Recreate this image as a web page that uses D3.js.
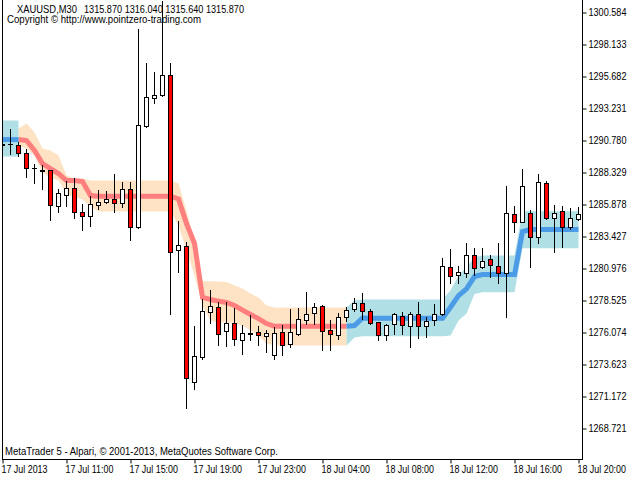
<!DOCTYPE html>
<html lang="en">
<head>
  <meta charset="UTF-8">
  <title>XAUUSD,M30</title>
  <script src="https://d3js.org/d3.v7.min.js"></script>
  <style>
    body { margin: 0; background: #fff; }
    svg { display: block; }
    text { font-family: "Liberation Sans", Arial, sans-serif; font-size: 10px; fill: #000; }
  </style>
</head>
<body>
  <div id="root"></div>
  <script>
    // XAUUSD M30 bars, 17 Jul 07:00 .. 18 Jul 20:00
    const opens = [
      1290.39, 1290.47, 1290.39, 1289.76, 1288.61, 1288.52, 1288.46, 1285.76, 1286.53, 1287.14,
      1285.24, 1284.99, 1285.77, 1286.00, 1286.28, 1285.93, 1287.02, 1284.13, 1291.87, 1294.03,
      1294.19, 1295.73, 1282.35, 1282.63, 1272.28, 1274.18, 1277.62, 1277.96, 1276.12, 1276.74,
      1275.43, 1276.03, 1276.05, 1275.79, 1274.33, 1276.05, 1275.13, 1275.94, 1276.99, 1277.50,
      1278.04, 1276.20, 1275.82, 1277.20, 1277.83, 1278.27, 1277.70, 1276.81, 1275.84, 1276.66,
      1277.32, 1276.53, 1277.42, 1276.53, 1276.99, 1277.42, 1281.05, 1280.41, 1280.61, 1281.94,
      1281.03, 1281.64, 1281.12, 1280.61, 1285.09, 1284.52, 1285.16, 1283.37, 1287.46, 1284.78,
      1285.34, 1284.13, 1284.75
    ]
    const highs = [
      1290.62, 1291.60, 1290.62, 1290.09, 1288.98, 1288.90, 1288.48, 1287.05, 1287.61, 1287.90,
      1285.85, 1286.49, 1286.92, 1286.91, 1288.19, 1287.56, 1287.54, 1299.26, 1296.70, 1296.01,
      1301.45, 1296.70, 1284.59, 1282.94, 1276.53, 1278.60, 1279.29, 1278.37, 1278.37, 1277.88,
      1276.58, 1277.35, 1276.51, 1276.22, 1276.48, 1276.58, 1277.83, 1277.88, 1279.13, 1278.27,
      1278.14, 1276.99, 1277.52, 1277.96, 1278.65, 1279.03, 1277.81, 1276.86, 1276.68, 1277.55,
      1277.62, 1277.58, 1278.34, 1277.24, 1278.21, 1281.71, 1282.43, 1281.12, 1282.86, 1282.53,
      1282.50, 1281.97, 1282.86, 1287.25, 1285.72, 1288.56, 1285.41, 1288.17, 1287.61, 1285.80,
      1285.72, 1285.54, 1285.62
    ]
    const lows = [
      1290.32, 1289.74, 1289.55, 1287.97, 1287.51, 1287.05, 1284.69, 1285.26, 1285.72, 1284.80,
      1283.88, 1284.19, 1285.51, 1285.97, 1285.24, 1285.67, 1283.12, 1284.07, 1291.80, 1293.63,
      1294.15, 1277.42, 1280.69, 1270.22, 1271.74, 1273.98, 1276.74, 1275.10, 1275.00, 1275.10,
      1274.41, 1275.48, 1275.10, 1274.56, 1273.98, 1274.33, 1274.94, 1275.86, 1276.68, 1276.68,
      1274.73, 1274.69, 1275.53, 1276.95, 1277.70, 1277.06, 1276.68, 1275.46, 1275.46, 1275.89,
      1275.89, 1274.94, 1275.59, 1275.66, 1276.58, 1277.37, 1279.80, 1279.80, 1280.26, 1280.44,
      1280.97, 1280.31, 1279.85, 1277.24, 1283.75, 1284.50, 1281.07, 1282.91, 1284.73, 1282.22,
      1282.60, 1283.96, 1284.65
    ]
    const closes = [
      1290.51, 1290.47, 1289.82, 1288.61, 1288.60, 1288.44, 1285.77, 1286.69, 1287.14, 1285.26,
      1284.99, 1285.91, 1286.03, 1286.28, 1285.93, 1287.00, 1284.13, 1291.90, 1294.05, 1294.19,
      1295.73, 1282.17, 1282.71, 1272.58, 1274.21, 1277.68, 1278.06, 1275.94, 1276.76, 1275.56,
      1275.97, 1275.95, 1275.82, 1275.97, 1275.97, 1275.05, 1276.05, 1277.04, 1277.42, 1277.96,
      1276.18, 1275.92, 1277.20, 1277.79, 1278.27, 1277.68, 1276.74, 1275.84, 1276.61, 1277.42,
      1276.61, 1277.45, 1276.53, 1276.91, 1277.42, 1281.12, 1280.36, 1280.67, 1281.94, 1280.95,
      1281.48, 1281.18, 1280.57, 1285.16, 1284.50, 1287.23, 1283.37, 1287.54, 1284.78, 1285.16,
      1284.13, 1284.78, 1285.09
    ]

    // trend channel indicator: middle line, upper / lower band, direction (1 up, -1 down)
    const midLine = [
      1290.85, 1290.85, 1290.85, 1290.78, 1290.01, 1289.01, 1288.63, 1288.25, 1287.71, 1287.71,
      1287.64, 1286.56, 1286.51, 1286.51, 1286.51, 1286.51, 1286.51, 1286.51, 1286.51, 1286.51,
      1286.51, 1286.51, 1286.30, 1284.42, 1282.89, 1278.77, 1278.60, 1278.48, 1278.37, 1278.14,
      1277.79, 1277.45, 1277.14, 1276.76, 1276.55, 1276.55, 1276.55, 1276.55, 1276.55, 1276.55,
      1276.55, 1276.55, 1276.55, 1276.55, 1276.61, 1277.18, 1277.16, 1277.16, 1277.16, 1277.16,
      1277.16, 1277.16, 1277.16, 1277.16, 1277.16, 1277.16, 1278.01, 1278.90, 1279.42, 1280.36,
      1280.51, 1280.51, 1280.51, 1280.51, 1280.51, 1283.80, 1283.96, 1283.96, 1283.96, 1283.96,
      1283.96, 1283.96, 1283.96
    ]
    const bandUpper = [
      1292.31, 1292.31, 1291.70, 1292.08, 1291.39, 1290.16, 1290.01, 1289.63, 1288.10, 1287.87,
      1287.87, 1287.71, 1287.71, 1287.71, 1287.71, 1287.71, 1287.71, 1287.71, 1287.71, 1287.71,
      1287.71, 1287.71, 1287.48, 1285.41, 1283.12, 1280.00, 1280.00, 1279.98, 1279.94, 1279.67,
      1279.44, 1279.06, 1278.75, 1278.14, 1277.98, 1277.98, 1277.98, 1277.98, 1277.98, 1277.98,
      1277.98, 1277.98, 1277.98, 1277.98, 1278.52, 1278.60, 1278.60, 1278.60, 1278.60, 1278.60,
      1278.60, 1278.60, 1278.60, 1278.60, 1278.60, 1278.60, 1279.29, 1280.44, 1281.07, 1281.84,
      1281.97, 1281.97, 1281.97, 1281.97, 1281.97, 1285.36, 1285.36, 1285.36, 1285.36, 1285.36,
      1285.36, 1285.36, 1285.36
    ]
    const bandLower = [
      1289.55, 1289.55, 1290.39, 1290.16, 1289.63, 1288.33, 1287.94, 1287.71, 1286.72, 1286.41,
      1286.26, 1285.72, 1285.34, 1285.34, 1285.34, 1285.34, 1285.34, 1285.34, 1285.34, 1285.34,
      1285.34, 1285.34, 1284.27, 1282.35, 1280.44, 1278.14, 1276.99, 1276.84, 1276.84, 1276.76,
      1276.61, 1276.22, 1275.84, 1275.23, 1275.07, 1275.07, 1275.07, 1275.07, 1275.07, 1275.07,
      1275.07, 1275.07, 1275.07, 1275.07, 1275.69, 1275.79, 1275.79, 1275.79, 1275.79, 1275.79,
      1275.79, 1275.79, 1275.79, 1275.79, 1275.79, 1275.79, 1275.84, 1276.99, 1277.52, 1279.03,
      1279.16, 1279.16, 1279.16, 1279.16, 1279.16, 1282.53, 1282.53, 1282.53, 1282.53, 1282.53,
      1282.53, 1282.53, 1282.53
    ]
    const trend = [
      1, 1, -1, -1, -1, -1, -1, -1, -1, -1,
      -1, -1, -1, -1, -1, -1, -1, -1, -1, -1,
      -1, -1, -1, -1, -1, -1, -1, -1, -1, -1,
      -1, -1, -1, -1, -1, -1, -1, -1, -1, -1,
      -1, -1, -1, -1, 1, 1, 1, 1, 1, 1,
      1, 1, 1, 1, 1, 1, 1, 1, 1, 1,
      1, 1, 1, 1, 1, 1, 1, 1, 1, 1,
      1, 1, 1
    ]

    const timeLabels = ['17 Jul 2013', '17 Jul 11:00', '17 Jul 15:00', '17 Jul 19:00', '17 Jul 23:00',
      '18 Jul 04:00', '18 Jul 08:00', '18 Jul 12:00', '18 Jul 16:00', '18 Jul 20:00']
    const timeLabelBars = [0, 8, 16, 24, 32, 40, 48, 56, 64, 72]
    const priceTicks = [1300.584, 1298.133, 1295.682, 1293.231, 1290.780, 1288.329, 1285.878,
      1283.427, 1280.976, 1278.525, 1276.074, 1273.623, 1271.172, 1268.721]

    const symbol = 'XAUUSD,M30'
    const lastQuote = '1315.870 1316.040 1315.640 1315.870'
    const copyright = 'Copyright \u00a9 http://www.pointzero-trading.com'
    const footer = 'MetaTrader 5 - Alpari, \u00a9 2001-2013, MetaQuotes Software Corp.'

    const n = opens.length
    const bars = d3.range(n)

    const svg = d3.select('#root')
      .append('svg')
      .attr('width', 640)
      .attr('height', 480)

    const x = d3.scaleLinear().domain([0, n - 1]).range([2.5, 578.5])
    const y = d3.scaleLinear().domain([1268.721, 1300.584]).range([428.5, 12.5])
    const py = v => Math.round(y(v) - 0.5) + 0.5

    svg.append('clipPath').attr('id', 'plot')
      .append('rect').attr('x', 2).attr('y', 0).attr('width', 580).attr('height', 459)

    const plot = svg.append('g').attr('clip-path', 'url(#plot)')

    // split bars into runs of same direction
    const runs = []
    let start = 0
    for (let i = 1; i <= n; i++) {
      if (i === n || trend[i] !== trend[start]) {
        runs.push({ dir: trend[start], from: start, to: i - 1 })
        start = i
      }
    }
    // points of a run: {i: bar position, v: bar whose band values are used}
    // up runs reach one bar back (from the neighbour's values) and one bar
    // forward (holding their own last value), like the indicator draws the switch
    const span = r => {
      const pts = d3.range(r.from, r.to + 1).map(i => ({ i, v: i }))
      if (r.dir > 0) {
        if (r.from > 0) pts.unshift({ i: r.from - 1, v: r.from - 1 })
        if (r.to < n - 1) pts.push({ i: r.to + 1, v: r.to })
      }
      return pts
    }
    const lineSpan = r => r.dir > 0
      ? d3.range(Math.max(0, r.from - 1), Math.min(n - 1, r.to + 1) + 1)
      : d3.range(r.from, r.to + 1)

    const band = d3.area()
      .x(d => x(d.i))
      .y0(d => y(bandLower[d.v]))
      .y1(d => y(bandUpper[d.v]))

    const mid = d3.line()
      .x(i => x(i))
      .y(i => y(midLine[i]))

    const downRuns = runs.filter(r => r.dir < 0)
    const upRuns = runs.filter(r => r.dir > 0)

    plot.selectAll('path.band-dn').data(downRuns).join('path')
      .attr('class', 'band-dn')
      .attr('d', r => band(span(r)))
      .attr('fill', '#fde3c4')
    plot.selectAll('path.band-up').data(upRuns).join('path')
      .attr('class', 'band-up')
      .attr('d', r => band(span(r)))
      .attr('fill', '#b0dfe6')

    plot.selectAll('path.mid-dn').data(downRuns).join('path')
      .attr('class', 'mid-dn')
      .attr('d', r => mid(lineSpan(r)))
      .attr('fill', 'none')
      .attr('stroke', '#ff7f7f')
      .attr('stroke-width', 5)
    plot.selectAll('path.mid-up').data(upRuns).join('path')
      .attr('class', 'mid-up')
      .attr('d', r => mid(lineSpan(r)))
      .attr('fill', 'none')
      .attr('stroke', '#4b9be6')
      .attr('stroke-width', 5)

    // candles
    plot.selectAll('line.wick').data(bars).join('line')
      .attr('class', 'wick')
      .attr('x1', i => x(i)).attr('x2', i => x(i))
      .attr('y1', i => py(highs[i]) - 0.5)
      .attr('y2', i => py(lows[i]) + 0.5)
      .attr('stroke', '#000')
      .attr('stroke-width', 1)

    const bodyTop = i => py(Math.max(opens[i], closes[i]))
    const bodyBot = i => py(Math.min(opens[i], closes[i]))

    plot.selectAll('rect.body').data(bars.filter(i => bodyBot(i) - bodyTop(i) >= 1)).join('rect')
      .attr('class', 'body')
      .attr('x', i => x(i) - 2)
      .attr('width', 4)
      .attr('y', bodyTop)
      .attr('height', i => bodyBot(i) - bodyTop(i))
      .attr('fill', i => closes[i] < opens[i] ? '#ff0000' : '#ffffff')
      .attr('stroke', '#000')
      .attr('stroke-width', 1)

    plot.selectAll('line.doji').data(bars.filter(i => bodyBot(i) - bodyTop(i) < 1)).join('line')
      .attr('class', 'doji')
      .attr('x1', i => x(i) - 2.5).attr('x2', i => x(i) + 2.5)
      .attr('y1', bodyTop).attr('y2', bodyTop)
      .attr('stroke', '#000')
      .attr('stroke-width', 1)

    // frame
    svg.append('line').attr('x1', 2.5).attr('x2', 2.5).attr('y1', 0).attr('y2', 459.5).attr('stroke', '#000')
    svg.append('line').attr('x1', 582.5).attr('x2', 582.5).attr('y1', 0).attr('y2', 459.5).attr('stroke', '#000')
    svg.append('line').attr('x1', 2).attr('x2', 583).attr('y1', 459.5).attr('y2', 459.5).attr('stroke', '#000')

    const squeeze = (sel, k) => sel.each(function () {
      const w = this.getComputedTextLength()
      d3.select(this).attr('textLength', w * k).attr('lengthAdjust', 'spacingAndGlyphs')
    })

    // price axis
    const yAxis = svg.append('g')
      .attr('transform', 'translate(582.5,0)')
      .call(d3.axisRight(y).tickValues(priceTicks).tickSize(4).tickPadding(2)
        .tickFormat(d3.format('.3f')))
    yAxis.select('.domain').remove()
    yAxis.selectAll('text').attr('font-family', null).attr('font-size', null)
    squeeze(yAxis.selectAll('text'), 0.91)

    // time axis
    const xAxis = svg.append('g')
      .attr('transform', 'translate(0,459.5)')
      .call(d3.axisBottom(x).tickValues(timeLabelBars).tickSize(4)
        .tickFormat((d, i) => timeLabels[i]))
    xAxis.select('.domain').remove()
    xAxis.selectAll('text')
      .attr('font-family', null).attr('font-size', null)
      .attr('text-anchor', 'start')
      .attr('x', -1.5)
      .attr('dy', null)
      .attr('y', 13)
    squeeze(xAxis.selectAll('text'), 0.89)

    // titles
    const fit = (t, w) => t.attr('textLength', w).attr('lengthAdjust', 'spacingAndGlyphs')
    fit(svg.append('text').attr('x', 17).attr('y', 13).text(symbol), 60)
    fit(svg.append('text').attr('x', 84).attr('y', 13).text(lastQuote), 160)
    fit(svg.append('text').attr('x', 7).attr('y', 23).text(copyright), 194)
    fit(svg.append('text').attr('x', 5).attr('y', 454.5).text(footer), 273)
  </script>
</body>
</html>
